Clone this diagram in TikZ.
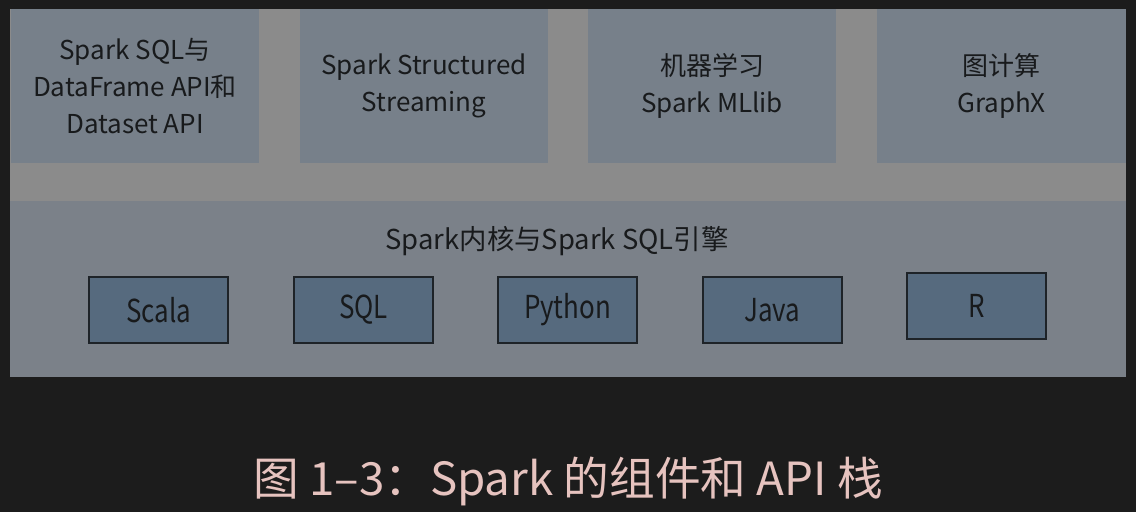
\documentclass[tikz,border=0pt]{standalone}
\usepackage{fontspec}
\setmainfont{Noto Sans CJK SC}
\usetikzlibrary{positioning}
\usepackage{xcolor}
\definecolor{bgdark}{HTML}{1C1C1C}
\definecolor{strip}{HTML}{8B8B8B}
\definecolor{module}{HTML}{77808A}
\definecolor{core}{HTML}{7B8189}
\definecolor{lang}{HTML}{566A7E}
\definecolor{langedge}{HTML}{1E2328}
\definecolor{ink}{HTML}{181A1C}
\definecolor{caption}{HTML}{E6C3BF}
\newcommand{\narrowtext}[1]{\scalebox{0.82}[1]{#1}}

\begin{document}
\begin{tikzpicture}[x=0.02cm,y=-0.02cm,
  modbox/.style={fill=module,text=ink,minimum width=4.98cm,minimum height=3.08cm,
    inner sep=0pt,align=center,font=\fontsize{14.8}{21}\selectfont},
  langbox/.style={fill=lang,draw=langedge,line width=0.9pt,text=ink,
    minimum width=2.78cm,minimum height=1.32cm,inner sep=0pt,
    font=\fontsize{18}{20}\selectfont}]
  % background and panels
  \fill[bgdark] (0,0) rectangle (1136,512);
  \useasboundingbox (0,0) rectangle (1136,512);
  \fill[strip] (10,9) rectangle (1126,377);
  \fill[core] (10,201) rectangle (1126,377);

  % upper components
  \node[modbox] (sql) at (135,86) {Spark SQL与\\DataFrame API和\\Dataset API};
  \node[modbox] (stream) at (424,86) {Spark Structured\\Streaming};
  \node[modbox] (mllib) at (712,86) {机器学习\\Spark MLlib};
  \node[modbox] (graphx) at (1001.5,86) {图计算\\GraphX};

  % core engine
  \node[text=ink,font=\fontsize{15.6}{18}\selectfont] (coretitle) at (557,241) {Spark内核与Spark SQL引擎};
  \node[langbox] (scala) at (158.5,310) {\narrowtext{Scala}};
  \node[langbox] (sqllang) at (363.5,310) {\narrowtext{SQL}};
  \node[langbox] (python) at (567.5,310) {\narrowtext{Python}};
  \node[langbox] (java) at (772.5,310) {\narrowtext{Java}};
  \node[langbox] (rlang) at (976.5,306) {\narrowtext{R}};

  % caption
  \node[text=caption,font=\fontsize{26}{28}\selectfont] (title) at (568,481) {图 1–3：Spark 的组件和 API 栈};
\end{tikzpicture}
\end{document}
